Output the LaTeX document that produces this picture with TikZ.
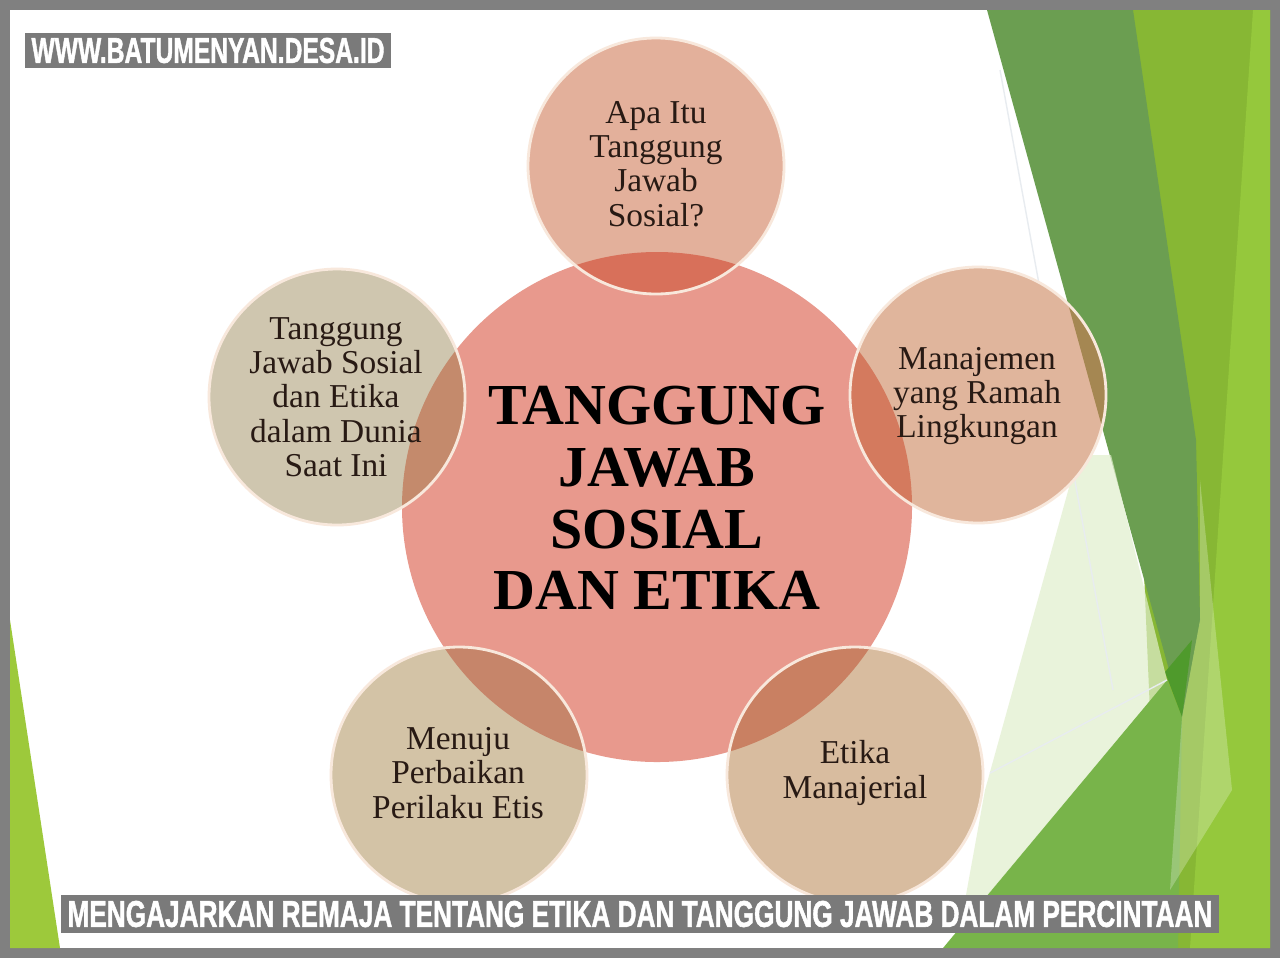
\documentclass[tikz,border=0pt]{standalone}
\usepackage{fontspec}
\setmainfont{Liberation Serif}
\newfontfamily\bannerfont[FakeBold=1.6]{Liberation Sans}
\usepackage{graphicx}
\usepackage{tikz}
\usetikzlibrary{calc}

\definecolor{frameGrey}{RGB}{128,128,128}
\definecolor{bannerGrey}{RGB}{122,122,122}
\definecolor{inkDark}{RGB}{40,26,20}
\definecolor{hubRose}{RGB}{232,153,141}
\definecolor{satTop}{RGB}{227,176,155}
\definecolor{satUR}{RGB}{224,181,156}
\definecolor{satLR}{RGB}{216,188,159}
\definecolor{satLL}{RGB}{211,195,166}
\definecolor{satUL}{RGB}{207,198,175}
\definecolor{ovTop}{RGB}{216,112,90}
\definecolor{ovUR}{RGB}{212,122,94}
\definecolor{ovLR}{RGB}{201,128,98}
\definecolor{ovLL}{RGB}{198,133,106}
\definecolor{ovUL}{RGB}{196,138,108}
\definecolor{ovLeaf}{RGB}{165,135,82}
\definecolor{rimCream}{RGB}{248,232,220}
\definecolor{leafDark}{RGB}{107,158,81}
\definecolor{leafYellow}{RGB}{135,183,52}
\definecolor{leafBright}{RGB}{149,200,60}
\definecolor{leafMid}{RGB}{120,180,74}
\definecolor{leafDeep}{RGB}{79,154,44}
\definecolor{leafPale}{RGB}{225,238,205}
\definecolor{leafLime}{RGB}{157,201,59}
\definecolor{facetLine}{RGB}{232,236,240}

\tikzset{
  sat/.style={align=center, text=inkDark, font=\fontsize{9.5}{9.75}\selectfont},
  hubtext/.style={align=center, text=black, font=\fontsize{16.5}{17.6}\selectfont\bfseries},
  rim/.style={draw=rimCream, line width=0.8pt},
  banner/.style={fill=bannerGrey, text=white, inner sep=0pt, font=\bannerfont\bfseries},
}

\begin{document}
\begin{tikzpicture}[x=1cm,y=-1cm]
  \useasboundingbox (0,0) rectangle (12.8,9.58);
  \fill[frameGrey] (0,0) rectangle (12.8,9.58);
  \fill[white] (0.1,0.1) rectangle (12.7,9.48);

  % green facets
  \coordinate (b1) at (9.87,0.1);
  \coordinate (b2) at (11.33,0.1);
  \coordinate (b3) at (11.96,4.40);
  \coordinate (b4) at (12.00,6.20);
  \coordinate (b5) at (11.82,7.17);
  \fill[leafYellow] (11.2,0.1) -- (12.7,0.1) -- (12.7,9.48) -- (11.6,9.48) -- cycle;
  \fill[leafBright] (12.53,0.1) -- (12.7,0.1) -- (12.7,9.48) -- (11.9,9.48) -- cycle;
  \fill[leafDark] (b1) -- (b2) -- (b3) -- (b4) -- (b5) -- cycle;
  \fill[leafMid] (9.43,9.48) -- (11.67,6.80) -- (b5) -- (11.78,9.48) -- cycle;
  \fill[leafDeep] (11.65,6.72) -- (11.92,6.40) -- (b5) -- cycle;
  \fill[white, opacity=0.25] (12.00,4.80) -- (12.32,7.90) -- (11.70,8.90) -- (b5) -- (b4) -- cycle;
  \fill[leafPale, opacity=0.7] (10.78,4.55) -- (11.11,4.55) -- (11.67,6.80) -- (9.60,9.28) -- (9.85,7.90) -- cycle;
  \draw[facetLine, line width=0.4pt] (10.00,0.70) -- (11.13,6.90);
  \draw[facetLine, line width=0.4pt] (9.90,7.73) -- (11.67,6.80);
  \fill[leafLime] (0.1,6.2) -- (0.6,9.48) -- (0.1,9.48) -- cycle;

  % circles
  \coordinate (hubC) at (6.57,5.07);
  \coordinate (topC) at (6.56,1.66);
  \coordinate (urC) at (9.78,3.95);
  \coordinate (lrC) at (8.55,7.75);
  \coordinate (llC) at (4.59,7.75);
  \coordinate (ulC) at (3.37,3.97);

  \fill[hubRose] (hubC) circle (2.55);
  \fill[satTop] (topC) circle (1.28);
  \fill[satUR] (urC) circle (1.28);
  \fill[satLR] (lrC) circle (1.28);
  \fill[satLL] (llC) circle (1.28);
  \fill[satUL] (ulC) circle (1.28);

  \begin{scope}
    \clip (hubC) circle (2.55);
    \fill[ovTop] (topC) circle (1.28);
    \fill[ovUR] (urC) circle (1.28);
    \fill[ovLR] (lrC) circle (1.28);
    \fill[ovLL] (llC) circle (1.28);
    \fill[ovUL] (ulC) circle (1.28);
  \end{scope}
  \begin{scope}
    \clip (b1) -- (b2) -- (b3) -- (b4) -- (b5) -- cycle;
    \fill[ovLeaf] (urC) circle (1.28);
  \end{scope}

  \foreach \c in {topC,urC,lrC,llC,ulC}
    \draw[rim] (\c) circle (1.28);

  \node[hubtext] (hub) at (6.57,4.98) {TANGGUNG\\JAWAB\\SOSIAL\\DAN ETIKA};
  \node[sat] (apa) at (6.56,1.64) {Apa Itu\\Tanggung\\Jawab\\Sosial?};
  \node[sat] (ramah) at (9.77,3.96) {Manajemen\\yang Ramah\\Lingkungan};
  \node[sat] (manajerial) at (8.55,7.73) {Etika\\Manajerial};
  \node[sat] (etis) at (4.58,7.73) {Menuju\\Perbaikan\\Perilaku Etis};
  \node[sat] (dunia) at (3.36,3.97) {Tanggung\\Jawab Sosial\\dan Etika\\dalam Dunia\\Saat Ini};

  % banners
  \node[banner, minimum width=3.66cm, minimum height=0.35cm] (site) at (2.08,0.505)
    {\resizebox{3.53cm}{0.25cm}{WWW.BATUMENYAN.DESA.ID}};
  \node[banner, minimum width=11.58cm, minimum height=0.38cm] (title) at (6.40,9.14)
    {\resizebox{11.45cm}{0.26cm}{MENGAJARKAN REMAJA TENTANG ETIKA DAN TANGGUNG JAWAB DALAM PERCINTAAN}};
\end{tikzpicture}
\end{document}
